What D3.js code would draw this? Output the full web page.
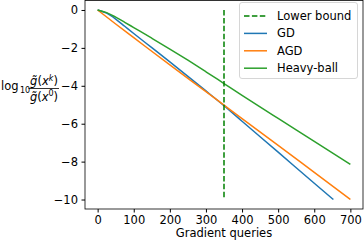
<!DOCTYPE html>
<html lang="en">
<head>
<meta charset="UTF-8">
<title>Gradient queries</title>
<script src="https://cdn.jsdelivr.net/npm/d3@7"></script>
<style>
    body { margin: 0; background: #fff; }
    svg { display: block; font-family: "DejaVu Sans", sans-serif; }
</style>
</head>
<body>
<svg width="364" height="241"></svg>
<script>
    // values: [gradient queries, log10 ratio]
    const gdData = [[0,0],[25,-0.17],[50,-0.48],[75,-0.86],[100,-1.24],[150,-1.99],[200,-2.74],
        [250,-3.5],[300,-4.27],[350,-5.05],[400,-5.87],[500,-7.5],[600,-9.14],[653,-10]];
    const agdData = [[0,0],[50,-0.74],[100,-1.46],[200,-2.9],[300,-4.31],[350,-5.02],
        [400,-5.73],[500,-7.14],[600,-8.57],[700,-10]];
    const hbData = [[0,0],[25,-0.14],[50,-0.38],[75,-0.65],[100,-0.93],[150,-1.49],[200,-2.06],
        [250,-2.65],[300,-3.26],[350,-3.88],[400,-4.5],[500,-5.72],[600,-6.93],[700,-8.15]];
    const lowerBound = 350;
    const xTicks = [0,100,200,300,400,500,600,700];
    const yTicks = [0,-2,-4,-6,-8,-10];
    const names = ["Lower bound","GD","AGD","Heavy-ball"];
    const colors = ["#008000","#1f77b4","#ff7f0e","#2ca02c"];

    const svg = d3.select("svg");
    const mLeft = 85, mRight = 363, mTop = 0.5, mBottom = 209;
    const fs = 11.5;

    const x = d3.scaleLinear().domain([-35,735]).range([mLeft,mRight]);
    const y = d3.scaleLinear().domain([0.5,-10.5]).range([mTop,mBottom]);

    const fmt = d => d < 0 ? "\u2212" + Math.abs(d) : d;

    // axes
    svg.append("g").attr("transform", "translate(0," + mBottom + ")")
        .call(d3.axisBottom(x).tickValues(xTicks).tickSize(3.5).tickPadding(3.5).tickFormat(fmt))
        .call(g => g.select(".domain").remove())
        .call(g => g.selectAll("text").attr("font-size", fs).attr("fill", "#000").attr("font-family", "DejaVu Sans"));
    svg.append("g").attr("transform", "translate(" + mLeft + ",0)")
        .call(d3.axisLeft(y).tickValues(yTicks).tickSize(3.5).tickPadding(3.5).tickFormat(fmt))
        .call(g => g.select(".domain").remove())
        .call(g => g.selectAll("text").attr("font-size", fs).attr("fill", "#000").attr("font-family", "DejaVu Sans"));

    // lines
    const line = d3.line().x(d => x(d[0])).y(d => y(d[1])).curve(d3.curveMonotoneX);
    [gdData, agdData, hbData].forEach(function (data, i) {
        svg.append("path").datum(data)
            .attr("d", line)
            .attr("fill", "none")
            .attr("stroke", colors[i + 1])
            .attr("stroke-width", 1.5);
    });

    svg.append("line")
        .attr("x1", x(lowerBound)).attr("x2", x(lowerBound))
        .attr("y1", y(0)).attr("y2", y(-10))
        .attr("stroke", colors[0]).attr("stroke-width", 1.5)
        .attr("stroke-dasharray", "5.5,2.4");

    // frame
    svg.append("rect")
        .attr("x", mLeft).attr("y", mTop)
        .attr("width", mRight - mLeft).attr("height", mBottom - mTop)
        .attr("fill", "none").attr("stroke", "#000").attr("stroke-width", 0.8);

    // legend
    const lg = svg.append("g");
    lg.append("rect").attr("x", 239.5).attr("y", 2.5).attr("width", 118).attr("height", 76)
        .attr("rx", 2.5).attr("fill", "#fff").attr("fill-opacity", 0.8)
        .attr("stroke", "#cccccc").attr("stroke-width", 0.8);
    names.forEach(function (n, i) {
        const yy = 16 + i * 17.4;
        lg.append("line").attr("x1", 244).attr("x2", 267).attr("y1", yy).attr("y2", yy)
            .attr("stroke", colors[i]).attr("stroke-width", 1.5)
            .attr("stroke-dasharray", i === 0 ? "5.5,2.4" : null);
        lg.append("text").attr("x", 277).attr("y", yy + 4).attr("font-size", fs).text(n);
    });

    // x label
    svg.append("text").attr("x", (mLeft + mRight) / 2).attr("y", 237)
        .attr("text-anchor", "middle").attr("font-size", fs).text("Gradient queries");

    // y label: log10 g~(x^k) / g~(x^0)
    const yl = svg.append("g").attr("font-size", fs);
    yl.append("text").attr("x", 1).attr("y", 90).text("log");
    yl.append("text").attr("x", 20).attr("y", 93).attr("font-size", 8).text("10");
    const frac = function (sup, yb) {
        const t = yl.append("text").attr("x", 44).attr("y", yb).attr("text-anchor", "middle");
        t.append("tspan").attr("font-style", "italic").text("g\u0303");
        t.append("tspan").text("(");
        t.append("tspan").attr("font-style", "italic").text("x");
        t.append("tspan").attr("font-size", 8).attr("dy", -4.5).attr("font-style", sup === "k" ? "italic" : null).text(sup);
        t.append("tspan").attr("dy", 4.5).text(")");
    };
    frac("k", 85);
    frac("0", 100.5);
    yl.append("line").attr("x1", 28.5).attr("x2", 59).attr("y1", 88.5).attr("y2", 88.5)
        .attr("stroke", "#000").attr("stroke-width", 0.8);
</script>
</body>
</html>
